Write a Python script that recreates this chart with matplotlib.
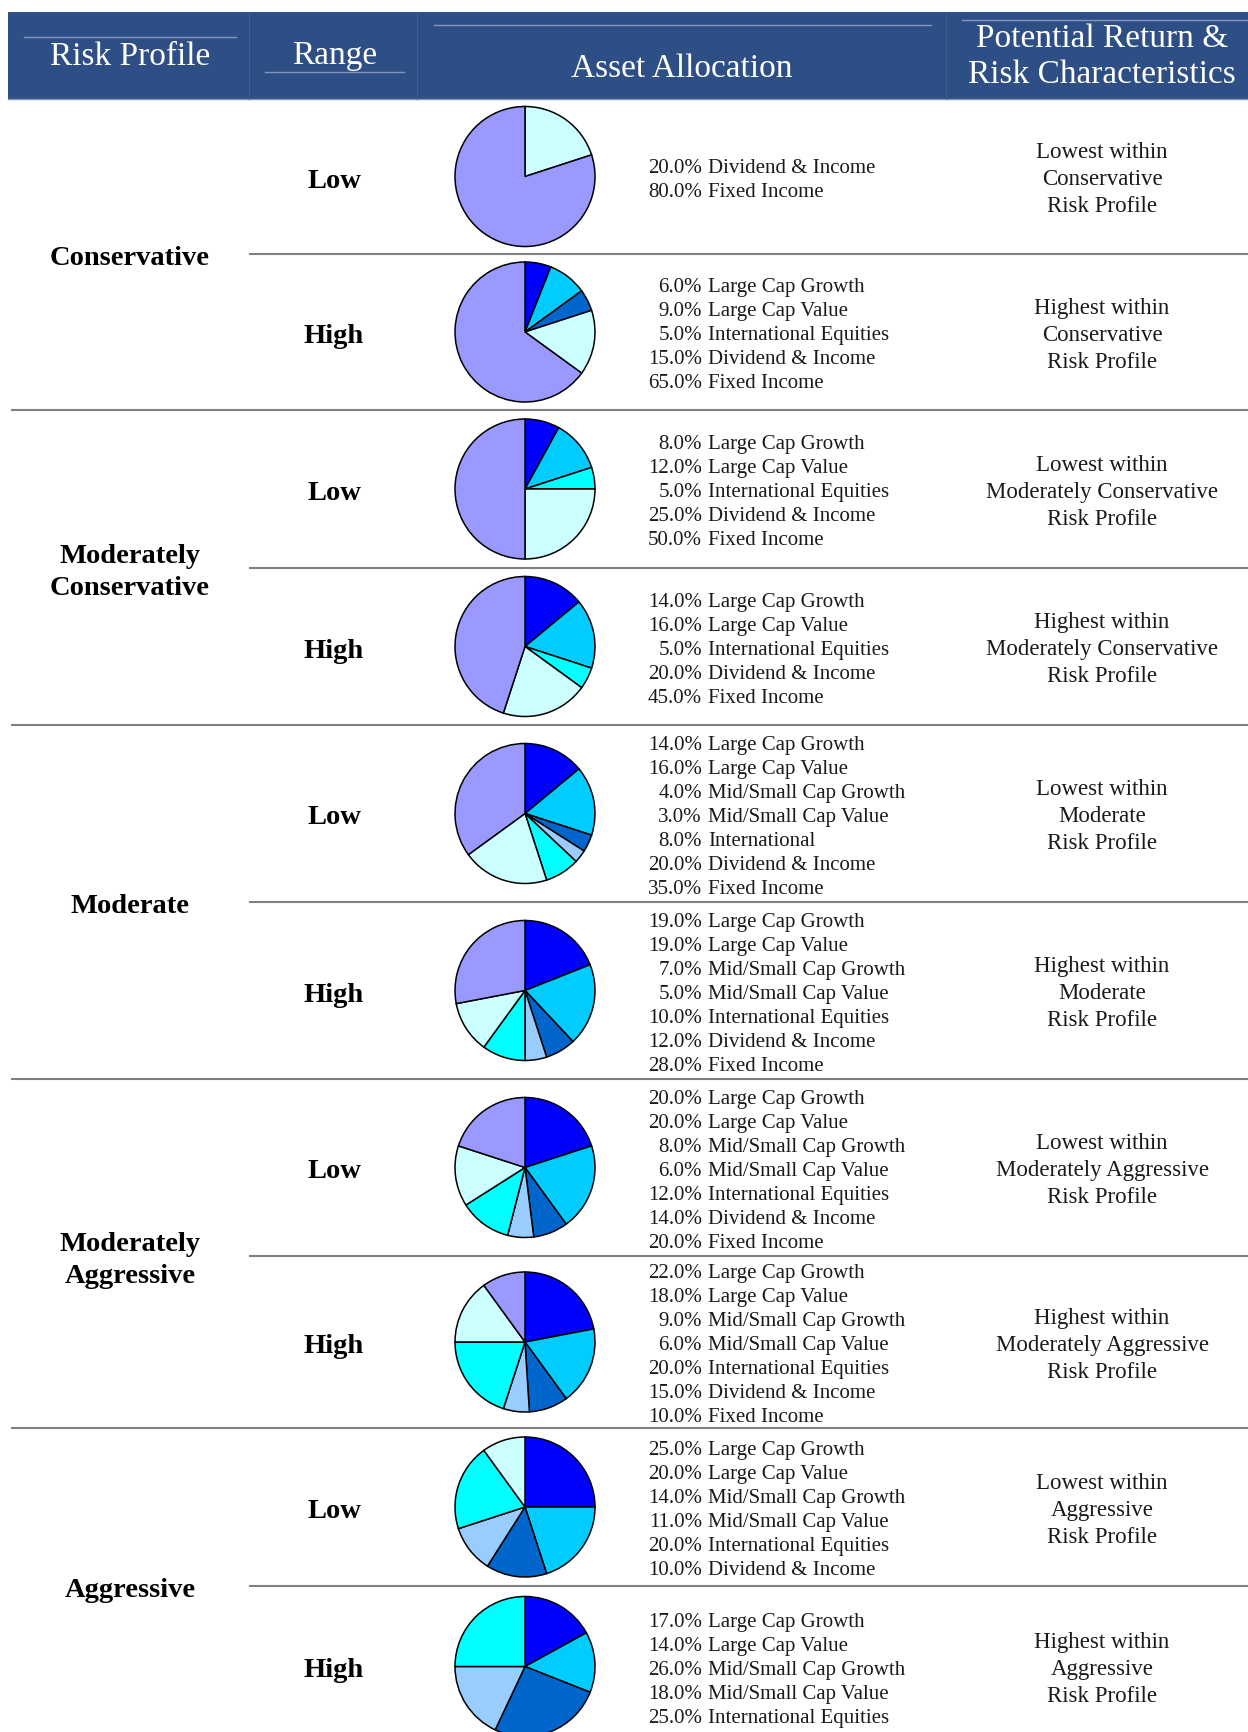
import matplotlib.pyplot as plt
from matplotlib.patches import Rectangle

plt.rcParams['font.family'] = ['Liberation Serif', 'DejaVu Serif']

# ---- data ----
profiles = ["Conservative", "Moderately Conservative", "Moderate",
            "Moderately Aggressive", "Aggressive"]
range_labels = ["Low", "High"]

alloc_names = [
    ["Dividend & Income", "Fixed Income"],
    ["Large Cap Growth", "Large Cap Value", "International Equities", "Dividend & Income", "Fixed Income"],
    ["Large Cap Growth", "Large Cap Value", "International Equities", "Dividend & Income", "Fixed Income"],
    ["Large Cap Growth", "Large Cap Value", "International Equities", "Dividend & Income", "Fixed Income"],
    ["Large Cap Growth", "Large Cap Value", "Mid/Small Cap Growth", "Mid/Small Cap Value",
     "International", "Dividend & Income", "Fixed Income"],
    ["Large Cap Growth", "Large Cap Value", "Mid/Small Cap Growth", "Mid/Small Cap Value",
     "International Equities", "Dividend & Income", "Fixed Income"],
    ["Large Cap Growth", "Large Cap Value", "Mid/Small Cap Growth", "Mid/Small Cap Value",
     "International Equities", "Dividend & Income", "Fixed Income"],
    ["Large Cap Growth", "Large Cap Value", "Mid/Small Cap Growth", "Mid/Small Cap Value",
     "International Equities", "Dividend & Income", "Fixed Income"],
    ["Large Cap Growth", "Large Cap Value", "Mid/Small Cap Growth", "Mid/Small Cap Value",
     "International Equities", "Dividend & Income"],
    ["Large Cap Growth", "Large Cap Value", "Mid/Small Cap Growth", "Mid/Small Cap Value",
     "International Equities"],
]
alloc_values = [
    [20, 80],
    [6, 9, 5, 15, 65],
    [8, 12, 5, 25, 50],
    [14, 16, 5, 20, 45],
    [14, 16, 4, 3, 8, 20, 35],
    [19, 19, 7, 5, 10, 12, 28],
    [20, 20, 8, 6, 12, 14, 20],
    [22, 18, 9, 6, 20, 15, 10],
    [25, 20, 14, 11, 20, 10],
    [17, 14, 26, 18, 25],
]

cat_colors = {
    "Large Cap Growth": "#0000FF",
    "Large Cap Value": "#00CCFF",
    "Mid/Small Cap Growth": "#0066CC",
    "Mid/Small Cap Value": "#99CCFF",
    "International Equities": "#00FFFF",
    "International": "#00FFFF",
    "Dividend & Income": "#CCFFFF",
    "Fixed Income": "#9999FF",
}

# ---- layout (pixels) ----
W, H = 1248, 1733
row_edges = [100, 255, 411, 569, 726, 903, 1080, 1257, 1429, 1587, 1748]
header_bg = "#2E4E86"
sep_color = "#808080"

fig = plt.figure(figsize=(W / 100, H / 100), dpi=100)
ax = fig.add_axes([0, 0, 1, 1])

# header
ax.add_patch(Rectangle((8, 13), W - 8, 87, facecolor=header_bg, edgecolor='none'))
for x0, x1, y in [(24, 236, 38), (265, 404, 73), (434, 931, 26), (962, W, 21), (8, W, 100)]:
    ax.plot([x0, x1], [y, y], color="#8496BC", lw=1.0)
for x in [249, 417, 946]:
    ax.plot([x, x], [13, 100], color="#3F5C92", lw=0.8)

hkw = dict(color='white', fontsize=24, ha='center', va='baseline')
ax.text(130, 65, "Risk Profile", **hkw)
ax.text(335, 64, "Range", **hkw)
ax.text(682, 77, "Asset Allocation", **hkw)
ax.text(1102, 47, "Potential Return &", **hkw)
ax.text(1102, 83, "Risk Characteristics", **hkw)

# separators
for i, y in enumerate(row_edges[1:-1]):
    x0 = 250 if i % 2 == 0 else 12
    ax.plot([x0, W], [y, y], color=sep_color, lw=1.5)

for i in range(len(alloc_values)):
    top, bot = row_edges[i], row_edges[i + 1]
    mid = (top + bot) / 2
    prof = profiles[i // 2]
    names = alloc_names[i]
    vals = alloc_values[i]
    cols = [cat_colors[n] for n in names]
    if i == 1:
        cols[2] = "#0066CC"

    ax.pie(vals, colors=cols, center=(525, mid), radius=70, startangle=-90,
           counterclock=True, frame=True,
           wedgeprops=dict(edgecolor='black', linewidth=1.1))

    n = len(vals)
    for k, (v, nm) in enumerate(zip(vals, names)):
        yb = mid + (k - (n - 1) / 2) * 24 + 7.2
        ax.text(702, yb, f"{v:.1f}%", ha='right', va='baseline', fontsize=15, color='#1a1a1a')
        ax.text(708, yb, nm, ha='left', va='baseline', fontsize=15, color='#1a1a1a')

    ax.text(334, mid + 10, range_labels[i % 2], ha='center', va='baseline',
            fontsize=20.5, fontweight='bold', color='black')

    desc = ["Lowest within" if i % 2 == 0 else "Highest within", prof, "Risk Profile"]
    for k, line in enumerate(desc):
        ax.text(1102, mid + (k - 1) * 27 + 7.8, line, ha='center', va='baseline',
                fontsize=16.5, color='#1a1a1a')

# risk profile names
for j, prof in enumerate(profiles):
    yc = row_edges[2 * j + 1]
    words = prof.split(" ")
    nl = len(words)
    for k, w in enumerate(words):
        ax.text(130, yc + (k - (nl - 1) / 2) * 32 + 10, w, ha='center', va='baseline',
                fontsize=20.5, fontweight='bold', color='black')

ax.set_aspect('auto')
ax.set_xlim(0, W)
ax.set_ylim(H, 0)
ax.axis('off')

fig.savefig("out.png", dpi=100, facecolor='white')
